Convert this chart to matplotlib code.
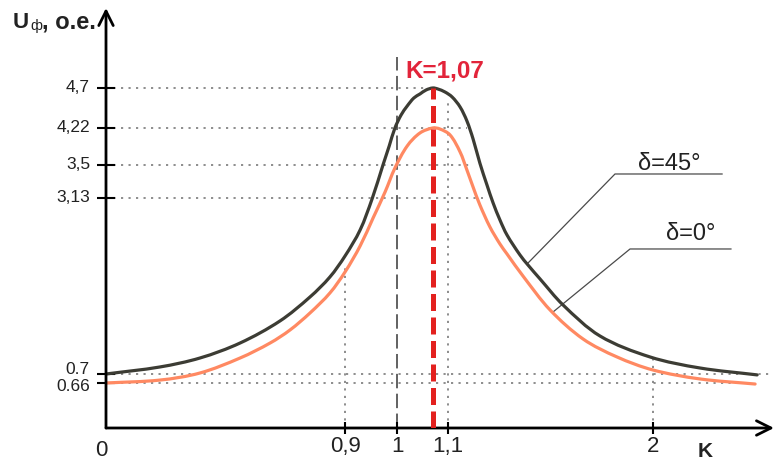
#!/usr/bin/env python3
# -*- coding: utf-8 -*-
"""
Резонансная кривая U_ф(K) для двух углов δ (схематичный график с неравномерными осями).
"""

import numpy as np
import matplotlib
matplotlib.use("Agg")
import matplotlib.pyplot as plt
from matplotlib.path import Path
from matplotlib.patches import PathPatch
from matplotlib.transforms import IdentityTransform

plt.rcParams["font.family"] = ["Liberation Sans", "DejaVu Sans"]

# ----------------------------------------------------------------------
# данные
# ----------------------------------------------------------------------
K_TICKS = [0.9, 1.0, 1.1, 2.0]
K_TICK_LABELS = ["0,9", "1", "1,1", "2"]
U_TICKS = [0.66, 0.7, 3.13, 3.5, 4.22, 4.7]
U_TICK_LABELS = ["0.66", "0.7", "3,13", "3,5", "4,22", "4,7"]

K_RES = 1.07
U_RES_45 = 4.7

# δ = 45°
K_45 = [0.0, 0.203, 0.354, 0.505, 0.655, 0.768, 0.843, 0.900, 0.929, 0.952,
        0.973, 0.985, 0.996, 1.008, 1.020, 1.033, 1.045, 1.057, 1.070, 1.080,
        1.094, 1.118, 1.153, 1.183, 1.210, 1.240, 1.271, 1.298, 1.328, 1.359,
        1.416, 1.451, 1.504, 1.605, 1.767, 1.987, 2.206, 2.457]
U_45 = [0.700, 0.797, 0.921, 1.128, 1.432, 1.763, 2.039, 2.329, 2.688, 3.116,
        3.500, 3.870, 4.220, 4.376, 4.484, 4.580, 4.628, 4.676, 4.700, 4.688,
        4.652, 4.592, 4.472, 4.304, 4.006, 3.534, 3.276, 3.061, 2.826, 2.619,
        2.343, 2.205, 2.012, 1.653, 1.225, 0.935, 0.783, 0.696]

# δ = 0°
K_0 = [0.0, 0.203, 0.354, 0.505, 0.618, 0.693, 0.768, 0.843, 0.900, 0.929,
       0.954, 0.977, 0.996, 1.020, 1.045, 1.070, 1.084, 1.109, 1.153, 1.183,
       1.210, 1.240, 1.284, 1.328, 1.359, 1.429, 1.548, 1.693, 1.842, 2.000,
       2.206, 2.448]
U_0 = [0.660, 0.673, 0.714, 0.921, 1.128, 1.308, 1.542, 1.818, 2.108, 2.467,
       2.854, 3.197, 3.466, 3.870, 4.123, 4.220, 4.201, 4.084, 3.753, 3.444,
       3.253, 3.033, 2.730, 2.495, 2.357, 2.053, 1.584, 1.183, 0.935, 0.755,
       0.678, 0.645]

# пунктирные вспомогательные линии: уровень U и до какого K тянется
HLINE_U = [4.7, 4.22, 3.5, 3.13, 0.7, 0.66]
HLINE_K_END = [1.06, 1.183, 1.205, 1.254, 2.527, 2.40]
# вертикальные: K и до какого U
VLINE_K = [0.9, 1.1, 2.0]
VLINE_U_END = [2.2, 4.52, 0.96]
K1_DASH_TOP = 5.07

# выноски к подписям кривых: (K, U) точек ломаной
LEADER_45_K = [1.449, 1.833, 2.303]
LEADER_45_U = [2.225, 3.399, 3.399]
LEADER_0_K = [1.561, 1.899, 2.342]
LEADER_0_U = [1.556, 2.426, 2.426]

# ----------------------------------------------------------------------
# неравномерные оси (как на исходной схеме): кусочно-линейная шкала
# ----------------------------------------------------------------------
_KX_DATA = [-1.0, 0.0, 0.9, 1.0, 1.1, 2.0, 3.0]
_KX_SCR = [-159.6, 106.0, 345.0, 397.0, 448.0, 653.0, 880.8]
_UY_DATA = [-1.0, 0.0, 0.66, 0.7, 3.13, 3.5, 4.22, 4.7, 6.0]
_UY_SCR = [-68.0, 0.0, 45.0, 54.0, 230.0, 263.0, 300.0, 340.0, 448.3]


def _fwd_x(k):
    return np.interp(k, _KX_DATA, _KX_SCR)


def _inv_x(s):
    return np.interp(s, _KX_SCR, _KX_DATA)


def _fwd_y(u):
    return np.interp(u, _UY_DATA, _UY_SCR)


def _inv_y(s):
    return np.interp(s, _UY_SCR, _UY_DATA)


def smooth_curve(ax, xs, ys, **kw):
    """
    Гладкая кривая через снятые точки: кубический Эрмит (параметр — длина хорды),
    строится в экранных координатах, чтобы изломы шкалы не давали углов.
    """
    p = ax.transData.transform(np.column_stack([xs, ys]))
    d = np.hypot(*np.diff(p, axis=0).T)
    t = np.concatenate([[0.0], np.cumsum(d)])
    m = np.empty_like(p)
    m[1:-1] = (p[2:] - p[:-2]) / (t[2:] - t[:-2])[:, None]
    m[0] = (p[1] - p[0]) / d[0]
    m[-1] = (p[-1] - p[-2]) / d[-1]

    verts = [p[0]]
    codes = [Path.MOVETO]
    for i in range(len(p) - 1):
        h = d[i]
        verts += [p[i] + m[i] * h / 3, p[i + 1] - m[i + 1] * h / 3, p[i + 1]]
        codes += [Path.CURVE4] * 3
    patch = PathPatch(Path(verts, codes), fill=False, transform=IdentityTransform(),
                      capstyle="round", joinstyle="round", **kw)
    ax.add_patch(patch)
    return patch


K_MAX = 2.531
U_MAX = 5.66

C_DARK = "#3c3c34"
C_ORANGE = "#ff8962"
C_RED = "#e3211f"
C_GRID = "#7a7a7a"
C_TEXT = "#222222"

fig = plt.figure(figsize=(7.74, 4.63), dpi=100)
ax = fig.add_axes([106 / 774, 35 / 463, 668 / 774, 420 / 463])
ax.set_xscale("function", functions=(_fwd_x, _inv_x))
ax.set_yscale("function", functions=(_fwd_y, _inv_y))
ax.set_xlim(0, K_MAX)
ax.set_ylim(0, U_MAX)

for s in ax.spines.values():
    s.set_visible(False)

# вспомогательные пунктиры
dot = (0, (1.3, 3.2))
for u, k_end in zip(HLINE_U, HLINE_K_END):
    ax.plot([0, k_end], [u, u], color=C_GRID, lw=1.2, ls=dot, zorder=1)
for k, u_end in zip(VLINE_K, VLINE_U_END):
    ax.plot([k, k], [0, u_end], color=C_GRID, lw=1.2, ls=dot, zorder=1)
ax.plot([1.0, 1.0], [0, K1_DASH_TOP], color="#555555", lw=1.3,
        ls=(0, (8, 3)), zorder=1)

# кривые
smooth_curve(ax, K_45, U_45, edgecolor=C_DARK, lw=2.3, zorder=3)
smooth_curve(ax, K_0, U_0, edgecolor=C_ORANGE, lw=2.3, zorder=3)

# линия резонанса
ax.plot([K_RES, K_RES], [0, U_RES_45], color=C_RED, lw=3.6,
        ls=(0, (3.4, 1.3)), zorder=4)
ax.text(1.016, 4.83, "K=1,07", color="#e2243a", fontsize=17.5,
        fontweight="bold", ha="left", va="baseline")

# выноски
ax.plot(LEADER_45_K, LEADER_45_U, color="#4a4a4a", lw=0.9, zorder=2)
ax.plot(LEADER_0_K, LEADER_0_U, color="#4a4a4a", lw=0.9, zorder=2)
ax.text(2.07, 3.44, "δ=45°", fontsize=17, color=C_TEXT, ha="center",
        va="baseline")
ax.text(2.167, 2.55, "δ=0°", fontsize=17, color=C_TEXT, ha="center",
        va="baseline")

# оси со стрелками
arrow = dict(arrowstyle="->", lw=2.0, color="black", mutation_scale=26,
             shrinkA=0, shrinkB=0)
ax.annotate("", xy=(0, 1), xycoords="axes fraction", xytext=(0, 0),
            textcoords="axes fraction", arrowprops=arrow, annotation_clip=False)
ax.annotate("", xy=(1, 0), xycoords="axes fraction", xytext=(0, 0),
            textcoords="axes fraction", arrowprops=arrow, annotation_clip=False)

# деления
ax.set_xticks(K_TICKS, K_TICK_LABELS)
ax.set_yticks(U_TICKS)
ax.minorticks_off()
ax.tick_params(axis="x", direction="inout", length=9, width=1.5,
               labelsize=16, pad=1, colors="black", labelcolor=C_TEXT)
ax.tick_params(axis="y", direction="inout", length=13, width=1.5,
               labelleft=False, colors="black")

# подписи делений по U вручную: 0.7 и 0.66 стоят тесно, их разводим
y_shift = {0.7: 4, 0.66: -4}
for u, lab in zip(U_TICKS, U_TICK_LABELS):
    ax.annotate(lab, xy=(0, u), xycoords=("axes fraction", "data"),
                xytext=(-16, y_shift.get(u, 0)), textcoords="offset pixels",
                fontsize=12.5, color=C_TEXT, ha="right", va="center",
                annotation_clip=False)

ax.annotate("0", xy=(0, 0), xycoords="data", xytext=(1, -12),
            textcoords="offset pixels", fontsize=16, color=C_TEXT,
            ha="right", va="top", annotation_clip=False)

# подписи осей
ax.annotate("K", xy=(2.23, 0), xytext=(0, -14), textcoords="offset pixels",
            fontsize=15, fontweight="bold", color=C_TEXT, ha="center",
            va="top", annotation_clip=False)
t_u = fig.text(13 / 774, 1 - 28 / 463, "U", fontsize=16, fontweight="bold",
               color=C_TEXT, ha="left", va="baseline")
t_f = ax.annotate("ф", xy=(1, 0), xycoords=t_u, xytext=(1, 0),
                  textcoords="offset pixels", fontsize=10.5, color=C_TEXT,
                  ha="left", va="bottom")
ax.annotate(", о.е.", xy=(1, 0), xycoords=t_f, xytext=(0, -1),
            textcoords="offset pixels", fontsize=17, fontweight="bold",
            color=C_TEXT, ha="left", va="bottom")

fig.savefig("out.png", dpi=100, facecolor="white")
